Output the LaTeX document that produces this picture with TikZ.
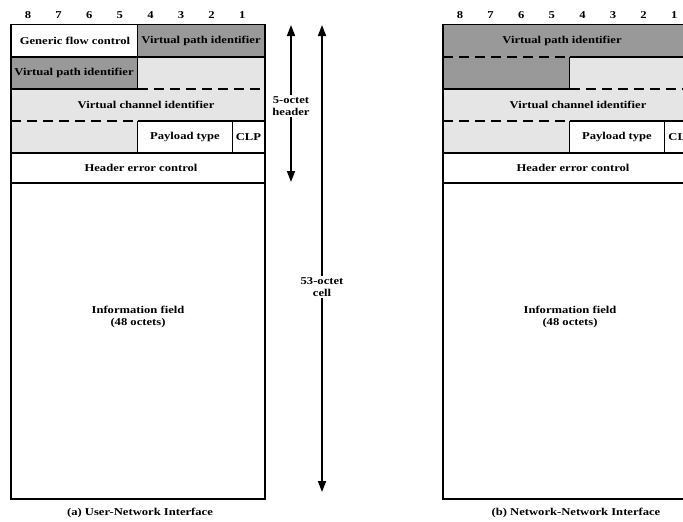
\documentclass[tikz,border=0pt]{standalone}
\usepackage{fontspec}
\setmainfont[FakeStretch=1.2]{Liberation Serif}
\usepackage{tikz}
\usetikzlibrary{arrows.meta}
\definecolor{darkfield}{gray}{0.6}
\definecolor{lightfield}{gray}{0.9}

\begin{document}
\begin{tikzpicture}[x=1pt, y=-1pt, line width=1.5pt,
    every node/.style={font=\fontsize{10.5}{11.5}\selectfont\bfseries, inner sep=1pt, align=center},
    dashline/.style={dash pattern=on 10pt off 6pt},
    span/.style={-{Triangle[length=11pt,width=8pt]}, line width=1.6pt}]
    \useasboundingbox (0,0) rectangle (683,522);
    % Bit numbers
    \foreach \b [count=\i from 0] in {8,7,6,5,4,3,2,1} {
        \node (bita\b) at (28+30.6*\i, 15) {\b};
        \node (bitb\b) at (460+30.6*\i, 15) {\b};
    }
    % (a) User-Network Interface: fills
    \fill [darkfield] (137.5,24.5) rectangle (265,57);
    \fill [darkfield] (11,57) rectangle (137.5,89);
    \fill [lightfield] (137.5,57) rectangle (265,89);
    \fill [lightfield] (11,89) rectangle (265,121);
    \fill [lightfield] (11,121) rectangle (137.5,153);
    % (a) lines
    \draw (11,24.5) rectangle (265,499);
    \draw (11,57) -- (265,57);
    \draw (137.5,24.5) -- (137.5,89);
    \draw (11,89) -- (137.5,89);
    \draw [dashline] (137.5,89) -- (265,89);
    \draw [dashline] (11,121) -- (137.5,121);
    \draw (137.5,121) -- (265,121);
    \draw (137.5,121) -- (137.5,153);
    \draw (232.5,121) -- (232.5,153);
    \draw (11,153) -- (265,153);
    \draw (11,183) -- (265,183);
    % (a) fields
    \node (gfc) at (75,41) {Generic flow control};
    \node (vpia1) at (201,41) {Virtual path identifier};
    \node (vpia2) at (74,73) {Virtual path identifier};
    \node (vcia) at (146,105) {Virtual channel identifier};
    \node (pta) at (185,137) {Payload type};
    \node (clpa) at (248.5,137) {CLP};
    \node (heca) at (141,168) {Header error control};
    \node (infoa) at (138,317) {Information field\\(48 octets)};
    \node (capa) at (140,513) {(a) User-Network Interface};
    % Octet counts
    \coordinate (hdrtop) at (291,25);
    \coordinate (hdrbot) at (291,182);
    \coordinate (celltop) at (322,25);
    \coordinate (cellbot) at (322,492);
    \node (hdr) at (291,106) {5-octet\\header};
    \node (cell) at (322,287) {53-octet\\cell};
    \draw [span] (hdr) -- (hdrtop);
    \draw [span] (hdr) -- (hdrbot);
    \draw [span] (cell) -- (celltop);
    \draw [span] (cell) -- (cellbot);
    % (b) Network-Network Interface: fills
    \fill [darkfield] (443,24.5) rectangle (697,57);
    \fill [darkfield] (443,57) rectangle (569.5,89);
    \fill [lightfield] (569.5,57) rectangle (697,89);
    \fill [lightfield] (443,89) rectangle (697,121);
    \fill [lightfield] (443,121) rectangle (569.5,153);
    % (b) lines
    \draw (443,24.5) rectangle (697,499);
    \draw [dashline] (443,57) -- (569.5,57);
    \draw (569.5,57) -- (697,57);
    \draw (569.5,57) -- (569.5,89);
    \draw (443,89) -- (569.5,89);
    \draw [dashline] (569.5,89) -- (697,89);
    \draw [dashline] (443,121) -- (569.5,121);
    \draw (569.5,121) -- (697,121);
    \draw (569.5,121) -- (569.5,153);
    \draw (664.5,121) -- (664.5,153);
    \draw (443,153) -- (697,153);
    \draw (443,183) -- (697,183);
    % (b) fields
    \node (vpib) at (562,41) {Virtual path identifier};
    \node (vcib) at (578,105) {Virtual channel identifier};
    \node (ptb) at (617,137) {Payload type};
    \node (clpb) at (681,137) {CLP};
    \node (hecb) at (573,168) {Header error control};
    \node (infob) at (570,317) {Information field\\(48 octets)};
    \node (capb) at (576,513) {(b) Network-Network Interface};
\end{tikzpicture}
\end{document}
